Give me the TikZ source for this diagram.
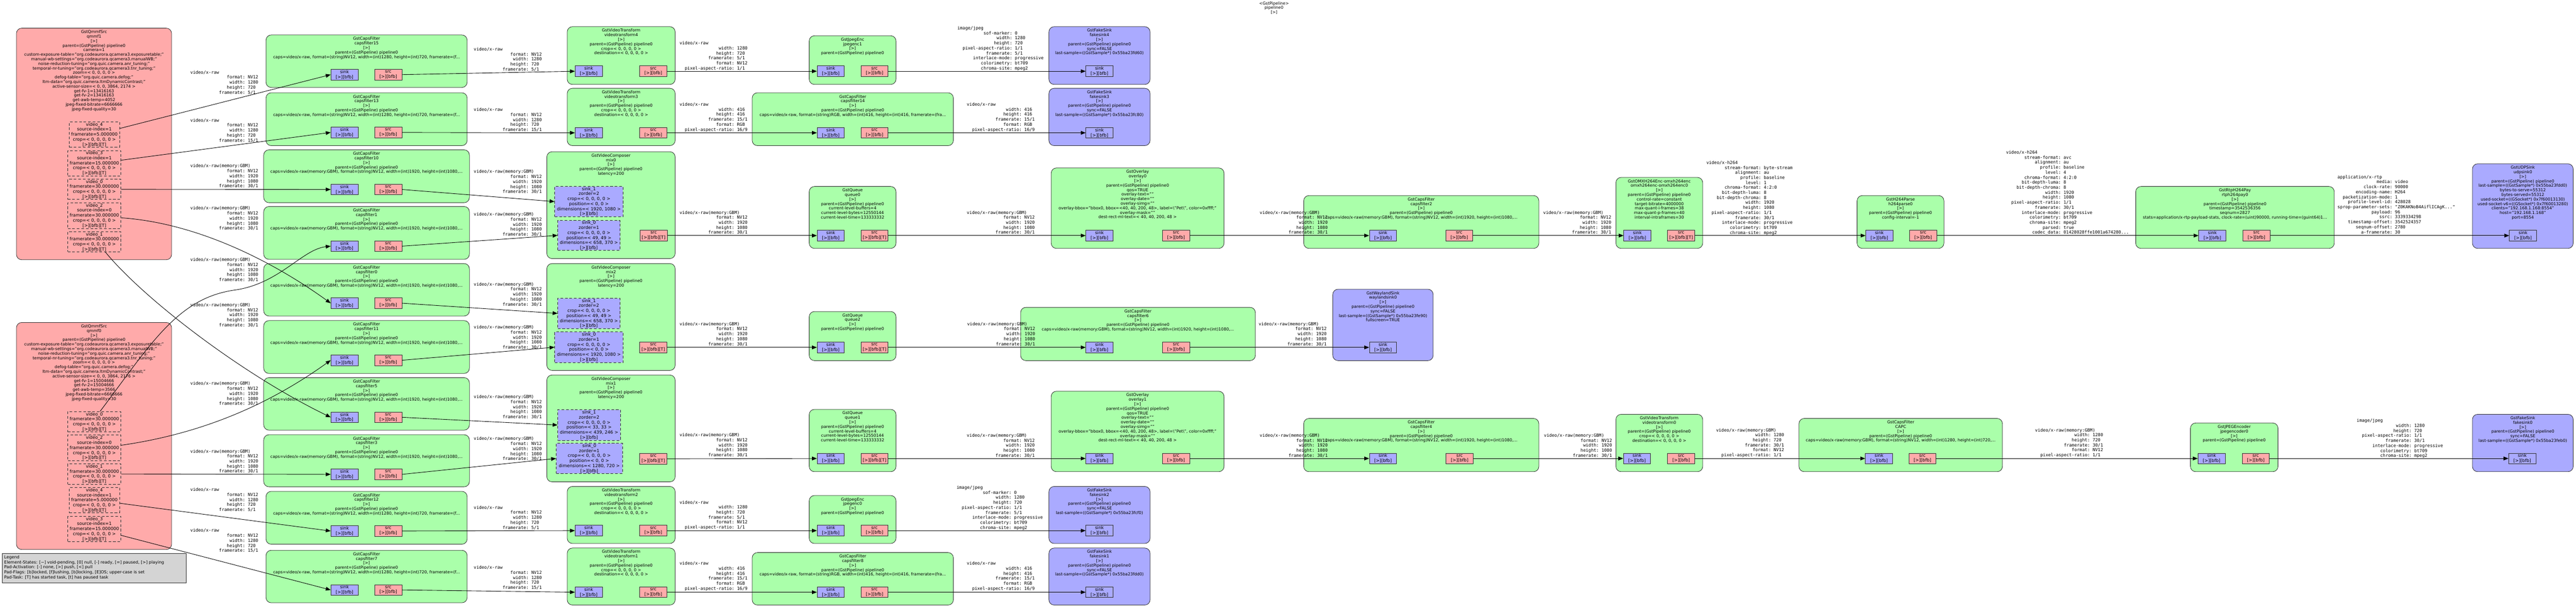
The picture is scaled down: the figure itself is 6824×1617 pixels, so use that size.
\documentclass[tikz,border=0pt]{standalone}
\usepackage{fontspec}
\setmainfont{DejaVu Sans}
\setmonofont{DejaVu Sans Mono}
\usetikzlibrary{arrows.meta}
\definecolor{elgreen}{HTML}{AAFFAA}
\definecolor{elpink}{HTML}{FFAAAA}
\definecolor{elblue}{HTML}{AAAAFF}
\definecolor{legendgray}{HTML}{D4D4D4}
\definecolor{bordc}{HTML}{2A2A2A}
\newcommand\gkv[2]{\makebox[12.04em][r]{#1}: #2}
\newcommand\cGBM{video/x-raw(memory:GBM)\\\gkv{format}{NV12}\\\gkv{width}{1920}\\\gkv{height}{1080}\\\gkv{framerate}{30/1}}
\newcommand\cRaw[1]{video/x-raw\\\gkv{format}{NV12}\\\gkv{width}{1280}\\\gkv{height}{720}\\\gkv{framerate}{#1}}
\newcommand\cVt{video/x-raw\\\gkv{width}{1280}\\\gkv{height}{720}\\\gkv{framerate}{5/1}\\\gkv{format}{NV12}\\\gkv{pixel-aspect-ratio}{1/1}}
\newcommand\cRGB{video/x-raw\\\gkv{width}{416}\\\gkv{height}{416}\\\gkv{framerate}{15/1}\\\gkv{format}{RGB}\\\gkv{pixel-aspect-ratio}{16/9}}
\newcommand\cJpeg{image/jpeg\\\gkv{sof-marker}{0}\\\gkv{width}{1280}\\\gkv{height}{720}\\\gkv{pixel-aspect-ratio}{1/1}\\\gkv{framerate}{5/1}\\\gkv{interlace-mode}{progressive}\\\gkv{colorimetry}{bt709}\\\gkv{chroma-site}{mpeg2}}
\newcommand\cGBMsm{video/x-raw(memory:GBM)\\\gkv{width}{1280}\\\gkv{height}{720}\\\gkv{framerate}{30/1}\\\gkv{format}{NV12}\\\gkv{pixel-aspect-ratio}{1/1}}
\newcommand\gel[6]{\node[elbox,#2,minimum width=#5pt,minimum height=#6pt,anchor=north west] (#1) at (#3,#4) {};}
\newcommand\gtx[2]{\node[eltxt] (#1-t) at ([yshift=-6pt]#1.north) {#2};}
\newcommand\gpad[7]{\node[#2,minimum width=#5pt,minimum height=#6pt,anchor=north west] (#1) at (#3,#4) {#7};}
\newcommand\gsink[3]{\node[sinkp,anchor=north west] (#1) at (#2,#3) {sink\\{}[>][bfb]};}
\newcommand\gsrc[4]{\node[srcp,anchor=north west] (#1) at (#2,#3) {src\\{}#4};}
\newcommand\gcap[4]{\node[capl] (#1) at (#2,#3) {#4};}
\newcommand\pp{parent=(GstPipeline) pipeline0}
\newcommand\capsRaw{caps=video/x-raw, format=(string)NV12, width=(int)1280, height=(int)720, framerate=(f...}
\newcommand\capsGBM{caps=video/x-raw(memory:GBM), format=(string)NV12, width=(int)1920, height=(int)1080,...}
\newcommand\capsRGB{caps=video/x-raw, format=(string)RGB, width=(int)416, height=(int)416, framerate=(fra...}
\tikzset{
 elbox/.style={draw=bordc, line width=1.1pt, rounded corners=14pt, inner sep=0pt},
 green/.style={fill=elgreen}, pink/.style={fill=elpink}, blue/.style={fill=elblue},
 eltxt/.style={font=\fontsize{10.8}{12}\selectfont, align=center, inner sep=0pt, anchor=north},
 padbase/.style={draw=bordc, line width=1.1pt, inner sep=0pt, font=\fontsize{11.6}{13.3}\selectfont, align=center},
 sinkp/.style={padbase, fill=elblue, minimum width=72pt, minimum height=28pt},
 srcp/.style={padbase, fill=elpink, minimum width=72pt, minimum height=28pt},
 dsrc/.style={padbase, fill=elpink, dash pattern=on 7pt off 5pt},
 dsink/.style={padbase, fill=elblue, dash pattern=on 7pt off 5pt},
 capl/.style={font=\ttfamily\fontsize{11.5}{13.25}\selectfont, align=left, inner sep=0pt, anchor=north west, yshift=4.5pt},
 conn/.style={draw=black, line width=1.2pt, -{Triangle[length=13pt,width=10pt]}},
}
\begin{document}
\begin{tikzpicture}[x=1pt,y=-1pt]
\fill[white] (0,0) rectangle (6824,1617);
\useasboundingbox (0,0) rectangle (6824,1617);
% title
\node[eltxt] (title) at (3375,4) {<GstPipeline>\\pipeline0\\{}[>]};
% ---------------- sources
\gel{q1}{pink}{43}{74}{411}{613}
\gtx{q1}{GstQmmfSrc\\qmmf1\\{}[>]\\\pp\\camera=1\\custom-exposure-table="org.codeaurora.qcamera3.exposuretable;"\\manual-wb-settings="org.codeaurora.qcamera3.manualWB;"\\noise-reduction-tuning="org.quic.camera.anr\_tuning;"\\temporal-nr-tuning="org.codeaurora.qcamera3.tnr\_tuning;"\\zoom=< 0, 0, 0, 0 >\\defog-table="org.quic.camera.defog;"\\ltm-data="org.quic.camera.ltmDynamicContrast;"\\active-sensor-size=< 0, 0, 3864, 2174 >\\get-fv-1=13416163\\get-fv-2=13416163\\get-awb-temp=4052\\jpeg-fixed-bitrate=6666666\\jpeg-fixed-quality=30}
\gpad{q1v4}{dsrc}{183}{322}{133}{67}{video\_4\\source-index=1\\framerate=5.000000\\crop=< 0, 0, 0, 0 >\\{}[>][bfb][T]}
\gpad{q1v3}{dsrc}{179}{398}{141}{67}{video\_3\\source-index=1\\framerate=15.000000\\crop=< 0, 0, 0, 0 >\\{}[>][bfb][T]}
\gpad{q1v0}{dsrc}{179}{474}{141}{53}{video\_0\\framerate=30.000000\\crop=< 0, 0, 0, 0 >\\{}[>][bfb][T]}
\gpad{q1v2}{dsrc}{179}{536}{141}{68}{video\_2\\source-index=0\\framerate=30.000000\\crop=< 0, 0, 0, 0 >\\{}[>][bfb][T]}
\gpad{q1v1}{dsrc}{179}{613}{141}{53}{video\_1\\framerate=30.000000\\crop=< 0, 0, 0, 0 >\\{}[>][bfb][T]}
\gel{q0}{pink}{43}{853}{411}{601}
\gtx{q0}{GstQmmfSrc\\qmmf0\\{}[>]\\\pp\\custom-exposure-table="org.codeaurora.qcamera3.exposuretable;"\\manual-wb-settings="org.codeaurora.qcamera3.manualWB;"\\noise-reduction-tuning="org.quic.camera.anr\_tuning;"\\temporal-nr-tuning="org.codeaurora.qcamera3.tnr\_tuning;"\\zoom=< 0, 0, 0, 0 >\\defog-table="org.quic.camera.defog;"\\ltm-data="org.quic.camera.ltmDynamicContrast;"\\active-sensor-size=< 0, 0, 3864, 2176 >\\get-fv-1=15004666\\get-fv-2=15004666\\get-awb-temp=3566\\jpeg-fixed-bitrate=6666666\\jpeg-fixed-quality=30}
\gpad{q0v0}{dsrc}{179}{1089}{141}{54}{video\_0\\framerate=30.000000\\crop=< 0, 0, 0, 0 >\\{}[>][bfb][T]}
\gpad{q0v2}{dsrc}{179}{1151}{141}{68}{video\_2\\source-index=0\\framerate=30.000000\\crop=< 0, 0, 0, 0 >\\{}[>][bfb][T]}
\gpad{q0v1}{dsrc}{179}{1227}{141}{54}{video\_1\\framerate=30.000000\\crop=< 0, 0, 0, 0 >\\{}[>][bfb][T]}
\gpad{q0v4}{dsrc}{183}{1290}{133}{67}{video\_4\\source-index=1\\framerate=5.000000\\crop=< 0, 0, 0, 0 >\\{}[>][bfb][T]}
\gpad{q0v3}{dsrc}{179}{1366}{141}{67}{video\_3\\source-index=1\\framerate=15.000000\\crop=< 0, 0, 0, 0 >\\{}[>][bfb][T]}
% legend
\node[draw=bordc, fill=legendgray, line width=1pt, minimum width=488pt, minimum height=77pt, anchor=north west, inner sep=0pt] (legend) at (5,1465) {};
\node[font=\fontsize{11}{13.3}\selectfont, align=left, anchor=north west, inner sep=0pt] (legend-t) at (11,1470) {Legend\\Element-States: [\textasciitilde] void-pending, [0] null, [-] ready, [=] paused, [>] playing\\Pad-Activation: [-] none, [>] push, [<] pull\\Pad-Flags: [b]locked, [f]lushing, [b]locking, [E]OS; upper-case is set\\Pad-Task: [T] has started task, [t] has paused task};
% ---------------- capsfilter column
\gel{cfA}{green}{704}{92}{533}{139}\gtx{cfA}{GstCapsFilter\\capsfilter15\\{}[>]\\\pp\\\capsRaw}
\gsink{cfAs}{876}{183}\gsrc{cfAo}{992}{183}{[>][bfb]}
\gel{cfB}{green}{704}{245}{533}{140}\gtx{cfB}{GstCapsFilter\\capsfilter13\\{}[>]\\\pp\\\capsRaw}
\gsink{cfBs}{876}{336}\gsrc{cfBo}{992}{336}{[>][bfb]}
\gel{cfC}{green}{698}{396}{545}{140}\gtx{cfC}{GstCapsFilter\\capsfilter10\\{}[>]\\\pp\\\capsGBM}
\gsink{cfCs}{876}{487}\gsrc{cfCo}{992}{487}{[>][bfb]}
\gel{cfD}{green}{698}{546}{545}{140}\gtx{cfD}{GstCapsFilter\\capsfilter1\\{}[>]\\\pp\\\capsGBM}
\gsink{cfDs}{876}{637}\gsrc{cfDo}{992}{637}{[>][bfb]}
\gel{cfE}{green}{698}{697}{545}{139}\gtx{cfE}{GstCapsFilter\\capsfilter0\\{}[>]\\\pp\\\capsGBM}
\gsink{cfEs}{876}{788}\gsrc{cfEo}{992}{788}{[>][bfb]}
\gel{cfF}{green}{698}{848}{545}{140}\gtx{cfF}{GstCapsFilter\\capsfilter11\\{}[>]\\\pp\\\capsGBM}
\gsink{cfFs}{876}{939}\gsrc{cfFo}{992}{939}{[>][bfb]}
\gel{cfG}{green}{698}{999}{545}{139}\gtx{cfG}{GstCapsFilter\\capsfilter5\\{}[>]\\\pp\\\capsGBM}
\gsink{cfGs}{876}{1090}\gsrc{cfGo}{992}{1090}{[>][bfb]}
\gel{cfH}{green}{698}{1150}{545}{138}\gtx{cfH}{GstCapsFilter\\capsfilter3\\{}[>]\\\pp\\\capsGBM}
\gsink{cfHs}{876}{1241}\gsrc{cfHo}{992}{1241}{[>][bfb]}
\gel{cfI}{green}{704}{1300}{533}{140}\gtx{cfI}{GstCapsFilter\\capsfilter12\\{}[>]\\\pp\\\capsRaw}
\gsink{cfIs}{876}{1391}\gsrc{cfIo}{992}{1391}{[>][bfb]}
\gel{cfJ}{green}{704}{1456}{533}{139}\gtx{cfJ}{GstCapsFilter\\capsfilter7\\{}[>]\\\pp\\\capsRaw}
\gsink{cfJs}{876}{1547}\gsrc{cfJo}{992}{1547}{[>][bfb]}
% ---------------- column 3
\gel{vt4}{green}{1502}{70}{286}{153}\gtx{vt4}{GstVideoTransform\\videotransform4\\{}[>]\\\pp\\crop=< 0, 0, 0, 0 >\\destination=< 0, 0, 0, 0 >}
\gsink{vt4s}{1523}{174}\gsrc{vt4o}{1694}{174}{[>][bfb]}
\gel{vt3}{green}{1502}{233}{286}{152}\gtx{vt3}{GstVideoTransform\\videotransform3\\{}[>]\\\pp\\crop=< 0, 0, 0, 0 >\\destination=< 0, 0, 0, 0 >}
\gsink{vt3s}{1523}{337}\gsrc{vt3o}{1694}{337}{[>][bfb]}
\gel{mix0}{green}{1448}{401}{340}{283}\gtx{mix0}{GstVideoComposer\\mix0\\{}[>]\\\pp\\latency=200}
\gpad{mix0a}{dsink}{1469}{493}{181}{80}{sink\_1\\zorder=2\\crop=< 0, 0, 0, 0 >\\position=< 0, 0 >\\dimensions=< 1920, 1080 >\\{}[>][bfb]}
\gpad{mix0b}{dsink}{1477}{583}{165}{79}{sink\_0\\zorder=1\\crop=< 0, 0, 0, 0 >\\position=< 49, 49 >\\dimensions=< 658, 370 >\\{}[>][bfb]}
\gsrc{mix0o}{1695}{609}{[>][bfb][T]}
\gel{mix2}{green}{1448}{697}{340}{283}\gtx{mix2}{GstVideoComposer\\mix2\\{}[>]\\\pp\\latency=200}
\gpad{mix2a}{dsink}{1477}{789}{165}{80}{sink\_1\\zorder=2\\crop=< 0, 0, 0, 0 >\\position=< 49, 49 >\\dimensions=< 658, 370 >\\{}[>][bfb]}
\gpad{mix2b}{dsink}{1469}{878}{181}{81}{sink\_0\\zorder=1\\crop=< 0, 0, 0, 0 >\\position=< 0, 0 >\\dimensions=< 1920, 1080 >\\{}[>][bfb]}
\gsrc{mix2o}{1694}{905}{[>][bfb][T]}
\gel{mix1}{green}{1448}{992}{340}{283}\gtx{mix1}{GstVideoComposer\\mix1\\{}[>]\\\pp\\latency=200}
\gpad{mix1a}{dsink}{1477}{1084}{166}{81}{sink\_1\\zorder=2\\crop=< 0, 0, 0, 0 >\\position=< 33, 33 >\\dimensions=< 439, 246 >\\{}[>][bfb]}
\gpad{mix1b}{dsink}{1473}{1173}{175}{80}{sink\_0\\zorder=1\\crop=< 0, 0, 0, 0 >\\position=< 0, 0 >\\dimensions=< 1280, 720 >\\{}[>][bfb]}
\gsrc{mix1o}{1694}{1200}{[>][bfb][T]}
\gel{vt2}{green}{1502}{1287}{286}{151}\gtx{vt2}{GstVideoTransform\\videotransform2\\{}[>]\\\pp\\crop=< 0, 0, 0, 0 >\\destination=< 0, 0, 0, 0 >}
\gsink{vt2s}{1523}{1390}\gsrc{vt2o}{1694}{1390}{[>][bfb]}
\gel{vt1}{green}{1502}{1450}{286}{151}\gtx{vt1}{GstVideoTransform\\videotransform1\\{}[>]\\\pp\\crop=< 0, 0, 0, 0 >\\destination=< 0, 0, 0, 0 >}
\gsink{vt1s}{1523}{1553}\gsrc{vt1o}{1694}{1553}{[>][bfb]}
% ---------------- column 4
\gel{je1}{green}{2143}{94}{230}{129}\gtx{je1}{GstJpegEnc\\jpegenc1\\{}[>]\\\pp}
\gsink{je1s}{2164}{174}\gsrc{je1o}{2280}{174}{[>][bfb]}
\gel{cf14}{green}{1992}{245}{533}{140}\gtx{cf14}{GstCapsFilter\\capsfilter14\\{}[>]\\\pp\\\capsRGB}
\gsink{cf14s}{2164}{337}\gsrc{cf14o}{2280}{337}{[>][bfb]}
\gel{qu0}{green}{2143}{493}{230}{164}\gtx{qu0}{GstQueue\\queue0\\{}[>]\\\pp\\current-level-buffers=4\\current-level-bytes=12550144\\current-level-time=133333332}
\gsink{qu0s}{2164}{609}\gsrc{qu0o}{2280}{609}{[>][bfb][T]}
\gel{qu2}{green}{2143}{824}{230}{130}\gtx{qu2}{GstQueue\\queue2\\{}[>]\\\pp}
\gsink{qu2s}{2164}{905}\gsrc{qu2o}{2280}{905}{[>][bfb][T]}
\gel{qu1}{green}{2143}{1083}{230}{165}\gtx{qu1}{GstQueue\\queue1\\{}[>]\\\pp\\current-level-buffers=4\\current-level-bytes=12550144\\current-level-time=133333332}
\gsink{qu1s}{2164}{1199}\gsrc{qu1o}{2280}{1199}{[>][bfb][T]}
\gel{je0}{green}{2143}{1311}{230}{127}\gtx{je0}{GstJpegEnc\\jpegenc0\\{}[>]\\\pp}
\gsink{je0s}{2164}{1390}\gsrc{je0o}{2280}{1390}{[>][bfb]}
\gel{cf8}{green}{1992}{1462}{533}{139}\gtx{cf8}{GstCapsFilter\\capsfilter8\\{}[>]\\\pp\\\capsRGB}
\gsink{cf8s}{2164}{1553}\gsrc{cf8o}{2280}{1553}{[>][bfb]}
% ---------------- column 5
\gel{fs4}{blue}{2778}{70}{268}{153}\gtx{fs4}{GstFakeSink\\fakesink4\\{}[>]\\\pp\\sync=FALSE\\last-sample=((GstSample*) 0x55ba23fd60)}
\gsink{fs4s}{2876}{174}
\gel{fs3}{blue}{2778}{233}{268}{152}\gtx{fs3}{GstFakeSink\\fakesink3\\{}[>]\\\pp\\sync=FALSE\\last-sample=((GstSample*) 0x55ba23fc80)}
\gsink{fs3s}{2876}{337}
\gel{ov0}{green}{2784}{444}{458}{213}\gtx{ov0}{GstOverlay\\overlay0\\{}[>]\\\pp\\qos=TRUE\\overlay-text=""\\overlay-date=""\\overlay-simg=""\\overlay-bbox="bbox0, bbox=<40, 40, 200, 48>, label=\textbackslash"Pet\textbackslash", color=0xffff;"\\overlay-mask=""\\dest-rect-ml-text=< 40, 40, 200, 48 >}
\gsink{ov0s}{2876}{609}\gsrc{ov0o}{3079}{609}{[>][bfb]}
\gel{cf6}{green}{2703}{813}{622}{141}\gtx{cf6}{GstCapsFilter\\capsfilter6\\{}[>]\\\pp\\\capsGBM}
\gsink{cf6s}{2876}{905}\gsrc{cf6o}{3079}{905}{[>][bfb]}
\gel{ov1}{green}{2784}{1035}{458}{213}\gtx{ov1}{GstOverlay\\overlay1\\{}[>]\\\pp\\qos=TRUE\\overlay-text=""\\overlay-date=""\\overlay-simg=""\\overlay-bbox="bbox0, bbox=<40, 40, 200, 48>, label=\textbackslash"Pet\textbackslash", color=0xffff;"\\overlay-mask=""\\dest-rect-ml-text=< 40, 40, 200, 48 >}
\gsink{ov1s}{2876}{1199}\gsrc{ov1o}{3079}{1199}{[>][bfb]}
\gel{fs2}{blue}{2778}{1287}{268}{151}\gtx{fs2}{GstFakeSink\\fakesink2\\{}[>]\\\pp\\sync=FALSE\\last-sample=((GstSample*) 0x55ba23fcf0)}
\gsink{fs2s}{2876}{1390}
\gel{fs1}{blue}{2778}{1450}{268}{151}\gtx{fs1}{GstFakeSink\\fakesink1\\{}[>]\\\pp\\sync=FALSE\\last-sample=((GstSample*) 0x55ba23fdd0)}
\gsink{fs1s}{2876}{1553}
% ---------------- column 6
\gel{cf2}{green}{3453}{517}{623}{140}\gtx{cf2}{GstCapsFilter\\capsfilter2\\{}[>]\\\pp\\\capsGBM}
\gsink{cf2s}{3627}{609}\gsrc{cf2o}{3829}{609}{[>][bfb]}
\gel{wl}{blue}{3530}{765}{266}{189}\gtx{wl}{GstWaylandSink\\waylandsink0\\{}[>]\\\pp\\sync=FALSE\\last-sample=((GstSample*) 0x55ba23fe90)\\fullscreen=TRUE}
\gsink{wls}{3627}{905}
\gel{cf4}{green}{3453}{1107}{623}{141}\gtx{cf4}{GstCapsFilter\\capsfilter4\\{}[>]\\\pp\\\capsGBM}
\gsink{cf4s}{3627}{1199}\gsrc{cf4o}{3830}{1199}{[>][bfb]}
% ---------------- column 7
\gel{omx}{green}{4280}{469}{230}{188}\gtx{omx}{GstOMXH264Enc-omxh264enc\\omxh264enc-omxh264enc0\\{}[>]\\\pp\\control-rate=constant\\target-bitrate=4000000\\max-quant-i-frames=38\\max-quant-p-frames=40\\interval-intraframes=30}
\gsink{omxs}{4301}{609}\gsrc{omxo}{4417}{609}{[>][bfb][T]}
\gel{vt0}{green}{4280}{1096}{230}{152}\gtx{vt0}{GstVideoTransform\\videotransform0\\{}[>]\\\pp\\crop=< 0, 0, 0, 0 >\\destination=< 0, 0, 0, 0 >}
\gsink{vt0s}{4300}{1199}\gsrc{vt0o}{4417}{1199}{[>][bfb]}
% ---------------- column 8
\gel{h264}{green}{4919}{517}{230}{140}\gtx{h264}{GstH264Parse\\h264parse0\\{}[>]\\\pp\\config-interval=-1}
\gsink{h264s}{4942}{609}\gsrc{h264o}{5058}{609}{[>][bfb]}
\gel{capc}{green}{4765}{1107}{539}{141}\gtx{capc}{GstCapsFilter\\CAPC\\{}[>]\\\pp\\caps=video/x-raw(memory:GBM), format=(string)NV12, width=(int)1280, height=(int)720,...}
\gsink{capcs}{4941}{1199}\gsrc{capco}{5056}{1199}{[>][bfb]}
% ---------------- column 9
\gel{rtp}{green}{5657}{493}{526}{164}\gtx{rtp}{GstRtpH264Pay\\rtph264pay0\\{}[>]\\\pp\\timestamp=3542536356\\seqnum=2827\\stats=application/x-rtp-payload-stats, clock-rate=(uint)90000, running-time=(guint64)1...}
\gsink{rtps}{5824}{609}\gsrc{rtpo}{5941}{609}{[>][bfb]}
\gel{jenc}{green}{5802}{1119}{232}{129}\gtx{jenc}{GstJPEGEncoder\\jpegencoder0\\{}[>]\\\pp}
\gsink{jencs}{5822}{1199}\gsrc{jenco}{5939}{1199}{[>][bfb]}
% ---------------- column 10
\gel{udp}{blue}{6549}{433}{267}{224}\gtx{udp}{GstUDPSink\\udpsink0\\{}[>]\\\pp\\last-sample=((GstSample*) 0x55ba23fdd0)\\bytes-to-serve=55312\\bytes-served=55312\\used-socket=((GSocket*) 0x7f60013130)\\used-socket-v6=((GSocket*) 0x7f60013280)\\clients="192.168.1.168:8554"\\host="192.168.1.168"\\port=8554}
\gsink{udps}{6647}{609}
\gel{fs0}{blue}{6549}{1096}{267}{152}\gtx{fs0}{GstFakeSink\\fakesink0\\{}[>]\\\pp\\sync=FALSE\\last-sample=((GstSample*) 0x55ba23feb0)}
\gsink{fs0s}{6645}{1199}
% ---------------- connectors
\draw[conn] ([yshift=16pt]q1v4.east) -- (cfAs.west);
\draw[conn] ([yshift=8pt]q1v3.east) -- (cfBs.west);
\draw[conn] (q1v0.east) -- (cfCs.west);
\draw[conn] ([xshift=15pt]q0v0.north) .. controls (400,910) and (470,790) .. (620,768) .. controls (740,752) and (800,660) .. (cfDs.west);
\draw[conn] ([yshift=-6pt]q1v2.east) .. controls (520,590) and (720,690) .. (cfEs.west);
\draw[conn] ([yshift=7pt]q0v2.east) .. controls (520,1150) and (700,1080) .. (cfFs.west);
\draw[conn] ([xshift=29pt]q1v1.south) .. controls (380,790) and (640,990) .. (cfGs.west);
\draw[conn] (q0v1.east) -- (cfHs.west);
\draw[conn] ([yshift=-8pt]q0v4.east) -- (cfIs.west);
\draw[conn] ([yshift=-17pt]q0v3.east) -- (cfJs.west);
\draw[conn] (cfAo.east) -- (vt4s.west);
\draw[conn] (cfBo.east) -- (vt3s.west);
\draw[conn] (cfCo.east) -- (mix0a.west);
\draw[conn] (cfDo.east) -- (mix0b.west);
\draw[conn] (cfEo.east) -- (mix2a.west);
\draw[conn] (cfFo.east) -- (mix2b.west);
\draw[conn] (cfGo.east) -- (mix1a.west);
\draw[conn] (cfHo.east) -- (mix1b.west);
\draw[conn] (cfIo.east) -- (vt2s.west);
\draw[conn] (cfJo.east) -- (vt1s.west);
\draw[conn] (vt4o.east) -- (je1s.west);
\draw[conn] (vt3o.east) -- (cf14s.west);
\draw[conn] (mix0o.east) -- (qu0s.west);
\draw[conn] (mix2o.east) -- (qu2s.west);
\draw[conn] (mix1o.east) -- (qu1s.west);
\draw[conn] (vt2o.east) -- (je0s.west);
\draw[conn] (vt1o.east) -- (cf8s.west);
\draw[conn] (je1o.east) -- (fs4s.west);
\draw[conn] (cf14o.east) -- (fs3s.west);
\draw[conn] (qu0o.east) -- (ov0s.west);
\draw[conn] (qu2o.east) -- (cf6s.west);
\draw[conn] (qu1o.east) -- (ov1s.west);
\draw[conn] (je0o.east) -- (fs2s.west);
\draw[conn] (cf8o.east) -- (fs1s.west);
\draw[conn] (ov0o.east) -- (cf2s.west);
\draw[conn] (cf6o.east) -- (wls.west);
\draw[conn] (ov1o.east) -- (cf4s.west);
\draw[conn] (cf2o.east) -- (omxs.west);
\draw[conn] (cf4o.east) -- (vt0s.west);
\draw[conn] (omxo.east) -- (h264s.west);
\draw[conn] (vt0o.east) -- (capcs.west);
\draw[conn] (h264o.east) -- (rtps.west);
\draw[conn] (capco.east) -- (jencs.west);
\draw[conn] (rtpo.east) -- (udps.west);
\draw[conn] (jenco.east) -- (fs0s.west);
% ---------------- connector labels
\gcap{L1}{504}{191}{\cRaw{5/1}}
\gcap{L2}{504}{318}{\cRaw{15/1}}
\gcap{L3}{504}{439}{\cGBM}
\gcap{L4}{504}{551}{\cGBM}
\gcap{L5}{504}{687}{\cGBM}
\gcap{L6}{504}{807}{\cGBM}
\gcap{L7}{504}{1015}{\cGBM}
\gcap{L8}{504}{1194}{\cGBM}
\gcap{L9}{504}{1296}{\cRaw{5/1}}
\gcap{L10}{504}{1404}{\cRaw{15/1}}
\gcap{M1}{1255}{130}{\cRaw{5/1}}
\gcap{M2}{1255}{290}{\cRaw{15/1}}
\gcap{M3}{1255}{454}{\cGBM}
\gcap{M4}{1255}{567}{\cGBM}
\gcap{M5}{1255}{752}{\cGBM}
\gcap{M6}{1255}{866}{\cGBM}
\gcap{M7}{1255}{1050}{\cGBM}
\gcap{M8}{1255}{1161}{\cGBM}
\gcap{M9}{1255}{1343}{\cRaw{5/1}}
\gcap{M10}{1255}{1502}{\cRaw{15/1}}
\gcap{N1}{1800}{114}{\cVt}
\gcap{N2}{1800}{276}{\cRGB}
\gcap{N3}{1800}{562}{\cGBM}
\gcap{N4}{1800}{857}{\cGBM}
\gcap{N5}{1800}{1151}{\cGBM}
\gcap{N6}{1800}{1329}{\cVt}
\gcap{N7}{1800}{1491}{\cRGB}
\gcap{O1}{2536}{74}{\cJpeg}
\gcap{O2}{2561}{276}{\cRGB}
\gcap{O3}{2561}{562}{\cGBM}
\gcap{O4}{2562}{857}{\cGBM}
\gcap{O5}{2561}{1152}{\cGBM}
\gcap{O6}{2534}{1290}{\cJpeg}
\gcap{O7}{2561}{1491}{\cRGB}
\gcap{P1}{3337}{562}{\cGBM}
\gcap{P2}{3334}{857}{\cGBM}
\gcap{P3}{3337}{1152}{\cGBM}
\gcap{Q1}{4088}{562}{\cGBM}
\gcap{Q2}{4090}{1152}{\cGBM}
\gcap{R1}{4520}{430}{video/x-h264\\\gkv{stream-format}{byte-stream}\\\gkv{alignment}{au}\\\gkv{profile}{baseline}\\\gkv{level}{1}\\\gkv{chroma-format}{4:2:0}\\\gkv{bit-depth-luma}{8}\\\gkv{bit-depth-chroma}{8}\\\gkv{width}{1920}\\\gkv{height}{1080}\\\gkv{pixel-aspect-ratio}{1/1}\\\gkv{framerate}{30/1}\\\gkv{interlace-mode}{progressive}\\\gkv{colorimetry}{bt709}\\\gkv{chroma-site}{mpeg2}}
\gcap{R2}{4546}{1138}{\cGBMsm}
\gcap{S1}{5314}{403}{video/x-h264\\\gkv{stream-format}{avc}\\\gkv{alignment}{au}\\\gkv{profile}{baseline}\\\gkv{level}{4}\\\gkv{chroma-format}{4:2:0}\\\gkv{bit-depth-luma}{8}\\\gkv{bit-depth-chroma}{8}\\\gkv{width}{1920}\\\gkv{height}{1080}\\\gkv{pixel-aspect-ratio}{1/1}\\\gkv{framerate}{30/1}\\\gkv{interlace-mode}{progressive}\\\gkv{colorimetry}{bt709}\\\gkv{chroma-site}{mpeg2}\\\gkv{parsed}{true}\\\gkv{codec\_data}{01428028ffe1001a674280...}}
\gcap{S2}{5391}{1138}{\cGBMsm}
\gcap{T1}{6192}{468}{application/x-rtp\\\gkv{media}{video}\\\gkv{clock-rate}{90000}\\\gkv{encoding-name}{H264}\\\gkv{packetization-mode}{1}\\\gkv{profile-level-id}{428028}\\\gkv{sprop-parameter-sets}{"Z0KAKNoB4AiflICAgK..."}\\\gkv{payload}{96}\\\gkv{ssrc}{3339334298}\\\gkv{timestamp-offset}{3542524357}\\\gkv{seqnum-offset}{2780}\\\gkv{a-framerate}{30}}
\gcap{T2}{6243}{1113}{image/jpeg\\\gkv{width}{1280}\\\gkv{height}{720}\\\gkv{pixel-aspect-ratio}{1/1}\\\gkv{framerate}{30/1}\\\gkv{interlace-mode}{progressive}\\\gkv{colorimetry}{bt709}\\\gkv{chroma-site}{mpeg2}}
\end{tikzpicture}
\end{document}
